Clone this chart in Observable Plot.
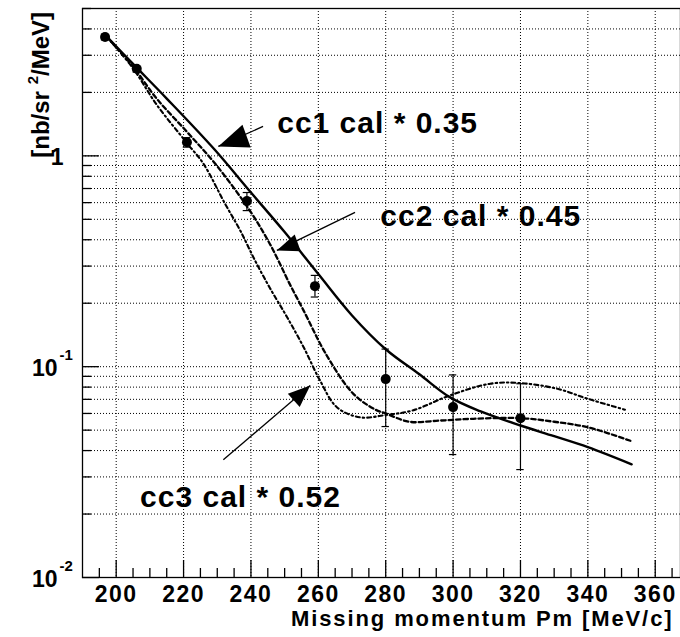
<!DOCTYPE html>
<html><head><meta charset="utf-8">
<script src="https://cdn.jsdelivr.net/npm/d3@7"></script>
<script src="https://cdn.jsdelivr.net/npm/@observablehq/plot@0.6"></script>
<style>
body{margin:0;background:#fff}
svg{display:block;overflow:visible}
</style>
</head><body><div id="chart"></div>
<script>
// ---- data ----
const pointPm  = [196.7, 206.1, 221.0, 238.8, 259.0, 280, 300, 320];
const pointVal = [3.66, 2.59, 1.16, 0.61, 0.241, 0.0873, 0.0643, 0.057];
const pointLo  = [3.55, 2.50, 1.10, 0.55, 0.214, 0.052, 0.0383, 0.0325];
const pointHi  = [3.78, 2.68, 1.22, 0.67, 0.271, 0.1212, 0.0914, 0.0830];

const cc1Pm  = [197, 205, 215, 229, 240, 250, 260, 270, 280, 290, 299, 308, 320, 330, 340, 353];
const cc1Val = [3.71, 2.73, 1.87, 1.08, 0.67, 0.435, 0.275, 0.175, 0.121, 0.092, 0.0717, 0.0615, 0.0526, 0.0468, 0.0415, 0.0344];

const cc2Pm  = [197, 205, 212, 221, 229.4, 239.3, 245.7, 251.6, 255.6, 262.5, 270.4, 277, 280, 287, 296, 306, 320, 330, 340, 353];
const cc2Val = [3.7, 2.65, 1.87, 1.30, 0.917, 0.561, 0.38, 0.245, 0.185, 0.113, 0.0743, 0.0625, 0.060, 0.0548, 0.0555, 0.0566, 0.057, 0.0548, 0.0516, 0.0443];

const cc3Pm  = [197, 205, 212, 221, 225.9, 232.3, 236.8, 241.2, 245.7, 250.7, 255.6, 260.5, 265.5, 272.4, 280, 288, 299, 311, 320, 331, 340, 351];
const cc3Val = [3.7, 2.6, 1.75, 1.15, 0.917, 0.593, 0.443, 0.319, 0.235, 0.172, 0.124, 0.086, 0.0642, 0.0575, 0.0590, 0.062, 0.073, 0.083, 0.0836, 0.0785, 0.0704, 0.0625];

const xMajorTicks = [200, 220, 240, 260, 280, 300, 320, 340, 360];
const xMinorTicks = d3.range(195, 366, 5).filter(v => v % 20 !== 0);
const yDecades = [0.01, 0.1, 1];
const yDecadeBase = ["10", "10", "1"];
const yDecadeExp = ["-2", "-1", ""];
const yMinorTicks = [];
for (const d of yDecades) for (let k = 2; k <= 9; k++) if (d * k <= 5) yMinorTicks.push(+(d * k).toPrecision(3));

const labels = ["cc1 cal * 0.35", "cc2 cal * 0.45", "cc3 cal * 0.52"];
const labelPm = [247.8, 278.4, 207.1];
const labelVal = [1.425, 0.516, 0.02395];
const arrowTailPm = [243.6, 270.9, 231.8];
const arrowTailVal = [1.379, 0.539, 0.0362];
const arrowTipPm = [230.3, 247.7, 257.6];
const arrowTipVal = [1.108, 0.356, 0.0814];

const xTitle = "Missing momentum Pm [MeV/c]";

// ---- build ----
const points = pointPm.map((x, i) => ({x, y: pointVal[i], lo: pointLo[i], hi: pointHi[i]}));
const cc1 = cc1Pm.map((x, i) => ({x, y: cc1Val[i]}));
const cc2 = cc2Pm.map((x, i) => ({x, y: cc2Val[i]}));
const cc3 = cc3Pm.map((x, i) => ({x, y: cc3Val[i]}));
const annots = labels.map((t, i) => ({t, x: labelPm[i], y: labelVal[i]}));
const arrowRot = [250, 250, 48];
const arrowR = [17, 12.5, 12.5];
const arrows = arrowTailPm.map((x1, i) => ({x1, y1: arrowTailVal[i], x2: arrowTipPm[i], y2: arrowTipVal[i], rot: arrowRot[i], r: arrowR[i]}));
const decades = yDecades.map((v, i) => ({v, base: yDecadeBase[i], exp: yDecadeExp[i]}));

const arrowHead = {
  draw(ctx, size) {
    const s = Math.sqrt(size);
    ctx.moveTo(0, 0);
    ctx.lineTo(-0.4 * s, s);
    ctx.lineTo(0.4 * s, s);
    ctx.closePath();
  }
};

const W = 680, H = 637, mL = 82, mR = 0, mT = 8, mB = 60;
const fw = W - mL - mR, fh = H - mT - mB;
const font = "'Liberation Sans', Arial, Helvetica, sans-serif";
const grid = {stroke: "#000", strokeWidth: 1, strokeDasharray: "1,2"};
const tickStyle = {fontWeight: "bold", fill: "#000", lineAnchor: "middle"};

const plot = Plot.plot({
  width: W, height: H,
  marginLeft: mL, marginRight: mR, marginTop: mT, marginBottom: mB,
  x: {domain: [190, 367.5], axis: null},
  y: {type: "log", domain: [0.01, 5], axis: null},
  style: {fontFamily: font, background: "#fff", color: "#000"},
  marks: [
    Plot.ruleX(xMajorTicks, {x: d => d, ...grid}),
    Plot.ruleY([0.1, 1, ...yMinorTicks], {y: d => d, ...grid}),
    Plot.frame({stroke: "#000", strokeWidth: 1.3}),
    // ticks
    Plot.ruleX(xMajorTicks, {x: d => d, insetTop: fh - 17, stroke: "#000", strokeWidth: 1.3}),
    Plot.ruleX(xMinorTicks, {x: d => d, insetTop: fh - 9, stroke: "#000", strokeWidth: 1.3}),
    Plot.ruleY(yDecades, {y: d => d, insetRight: fw - 17, stroke: "#000", strokeWidth: 1.3}),
    Plot.ruleY(yMinorTicks, {y: d => d, insetRight: fw - 9, stroke: "#000", strokeWidth: 1.3}),
    // curves
    Plot.line(cc3, {x: "x", y: "y", curve: "catmull-rom", stroke: "#000", strokeWidth: 2.1, strokeDasharray: "4,3,1.5,3"}),
    Plot.line(cc2, {x: "x", y: "y", curve: "catmull-rom", stroke: "#000", strokeWidth: 2.3, strokeDasharray: "4.5,3"}),
    Plot.line(cc1, {x: "x", y: "y", curve: "catmull-rom", stroke: "#000", strokeWidth: 2.4}),
    // data points
    Plot.ruleX(points, {x: "x", y1: "lo", y2: "hi", stroke: "#000", strokeWidth: 1.2}),
    Plot.ruleY(points, {y: "lo", x1: d => d.x - 1.1, x2: d => d.x + 1.1, stroke: "#000", strokeWidth: 1.2}),
    Plot.ruleY(points, {y: "hi", x1: d => d.x - 1.1, x2: d => d.x + 1.1, stroke: "#000", strokeWidth: 1.2}),
    Plot.dot(points, {x: "x", y: "y", r: 5, fill: "#000", stroke: "none"}),
    // annotations
    Plot.link(arrows, {x1: "x1", y1: "y1", x2: "x2", y2: "y2", stroke: "#000", strokeWidth: 1.3}),
    ...arrows.map(a => Plot.dot([a], {x: "x2", y: "y2", r: a.r, rotate: a.rot, symbol: arrowHead, fill: "#000", stroke: "none"})),
    Plot.text(annots, {x: "x", y: "y", text: "t", textAnchor: "start", lineAnchor: "middle", fontSize: 30, fontWeight: "bold", fill: "#000"}),
    // axis labels
    Plot.text(xMajorTicks, {x: d => d, text: d => String(d), frameAnchor: "bottom", dy: 17, fontSize: 23, ...tickStyle}),
    Plot.text(decades.filter(d => d.base === "1"), {y: "v", text: "base", frameAnchor: "left", textAnchor: "end", dx: -19, dy: 2, fontSize: 23, ...tickStyle}),
    Plot.text(decades.filter(d => d.base === "10"), {y: "v", text: "base", frameAnchor: "left", textAnchor: "end", dx: -25, dy: 2, fontSize: 23, ...tickStyle}),
    Plot.text(decades.filter(d => d.exp !== ""), {y: "v", text: "exp", frameAnchor: "left", textAnchor: "start", dx: -23, dy: -11, fontSize: 15, ...tickStyle}),
    Plot.text([xTitle], {text: d => d, frameAnchor: "bottom-right", textAnchor: "end", dx: -7, dy: 41, fontSize: 22, ...tickStyle})
  ]
});

// letter spacing to match the wider reference face
const svg = d3.select(plot);
svg.selectAll("text").each(function() {
  const t = d3.select(this), s = t.text();
  if (labels.includes(s)) t.style("letter-spacing", "1px");
  else if (s === xTitle) t.style("letter-spacing", "1.9px");
  else if (xMajorTicks.map(String).includes(s)) t.style("letter-spacing", "1.5px");
});

// rotated y title with superscript
const yt = svg.append("text")
  .attr("transform", `translate(49,${mT + 4}) rotate(-90)`)
  .attr("text-anchor", "end")
  .attr("font-family", font)
  .attr("font-weight", "bold")
  .attr("font-size", 24)
  .attr("fill", "#000");
yt.append("tspan").text("[nb/sr ");
yt.append("tspan").attr("dy", -11).attr("font-size", 15).text("2");
yt.append("tspan").attr("dy", 11).text("/MeV]");

document.getElementById("chart").appendChild(plot);
</script>
</body></html>
